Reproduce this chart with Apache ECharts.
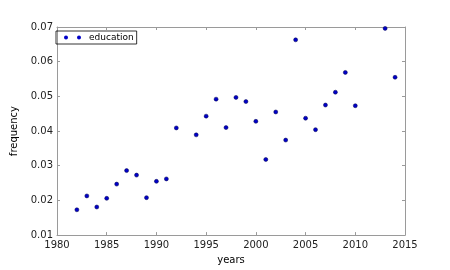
<!DOCTYPE html>
<html>
<head>
<meta charset="utf-8">
<script src="https://cdn.jsdelivr.net/npm/echarts@6/dist/echarts.min.js"></script>
<style>
html,body{margin:0;padding:0;background:#fff;}
#main{width:450px;height:270px;}
</style>
</head>
<body>
<div id="main"></div>
<script>
// data
const years = [1982,1983,1984,1985,1986,1987,1988,1989,1990,1991,1992,
  1994,1995,1996,1997,1998,1999,2000,2001,2002,2003,2004,2005,2006,2007,2008,2009,2010,2013,2014]
const education = [0.0173,0.0213,0.0181,0.0206,0.0247,0.0286,0.0273,0.0208,0.0255,0.0262,0.0409,
  0.0389,0.0443,0.0492,0.0410,0.0497,0.0485,0.0428,0.0318,0.0455,0.0374,0.0663,0.0437,0.0404,0.0475,0.0512,0.0569,0.0473,0.0696,0.0555]
const xTicks = [1980,2015,5]
const yTicks = [0.01,0.07,0.01]

const chartDom=document.getElementById('main')
let myChart=echarts.init(chartDom)
const frame='#9a9a9a'
const font='DejaVu Sans'
let option;
option={
  animation:false,
  grid:{left:57,right:45,top:27,bottom:28},
  legend:{
    left:56,top:31,
    data:['education'],
    orient:'horizontal',
    icon:'path://M0,2a2,2 0 1,0 4,0a2,2 0 1,0 -4,0M13,2a2,2 0 1,0 4,0a2,2 0 1,0 -4,0',
    itemWidth:17,itemHeight:4,itemGap:4,
    itemStyle:{borderWidth:0},
    padding:[2,3,2,8],
    borderColor:'#000',borderWidth:0.8,
    textStyle:{fontFamily:font,fontSize:9,color:'#000',padding:[0,0,0,3]}
  },
  xAxis:[{
    type:'value',min:xTicks[0],max:xTicks[1],interval:xTicks[2],
    name:'years',nameLocation:'middle',nameGap:17,
    nameTextStyle:{fontFamily:font,fontSize:10,color:'#000'},
    axisLine:{lineStyle:{color:frame,width:1}},
    axisTick:{inside:true,length:3,lineStyle:{color:frame}},
    axisLabel:{fontFamily:font,fontSize:10,color:'#222',margin:5,
      formatter:v=>String(v)},
    splitLine:{show:false}
  },{
    type:'value',position:'top',min:xTicks[0],max:xTicks[1],interval:xTicks[2],
    axisLine:{show:true,lineStyle:{color:frame,width:1}},
    axisTick:{inside:true,length:3,lineStyle:{color:frame}},
    axisLabel:{show:false},splitLine:{show:false}
  }],
  yAxis:[{
    type:'value',min:yTicks[0],max:yTicks[1],interval:yTicks[2],
    name:'frequency',nameLocation:'middle',nameGap:29,
    nameTextStyle:{fontFamily:font,fontSize:10,color:'#000'},
    axisLine:{show:true,lineStyle:{color:frame,width:1}},
    axisTick:{show:true,inside:true,length:3,lineStyle:{color:frame}},
    axisLabel:{fontFamily:font,fontSize:10,color:'#222',margin:4,
      formatter:v=>v.toFixed(2)},
    splitLine:{show:false}
  },{
    type:'value',position:'right',min:yTicks[0],max:yTicks[1],interval:yTicks[2],
    axisLine:{show:true,lineStyle:{color:frame,width:1}},
    axisTick:{show:true,inside:true,length:3,lineStyle:{color:frame}},
    axisLabel:{show:false},splitLine:{show:false}
  }],
  series:[{
    name:'education',
    type:'scatter',
    symbolSize:4,
    itemStyle:{color:'#0000c8',borderColor:'#00004a',borderWidth:0.5,opacity:1},
    data:years.map((y,i)=>[y,education[i]])
  }]
}

option && myChart.setOption(option);
</script>
</body>
</html>
